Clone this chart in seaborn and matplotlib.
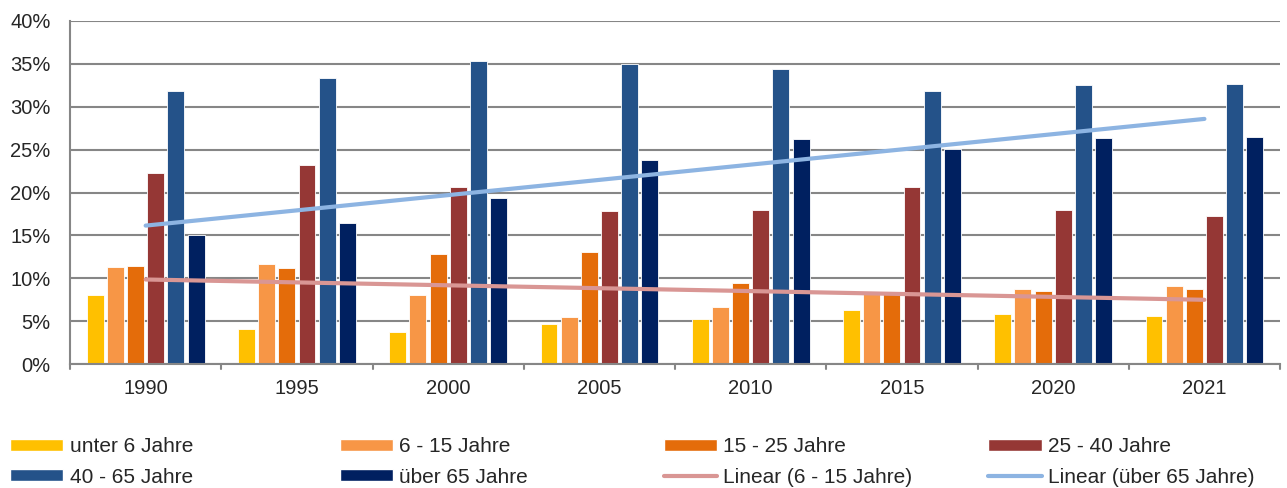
import numpy as np
import pandas as pd
import seaborn as sns
import matplotlib.pyplot as plt
from matplotlib.patches import Patch
from matplotlib.lines import Line2D

years = ["1990", "1995", "2000", "2005", "2010", "2015", "2020", "2021"]
groups = ["unter 6 Jahre", "6 - 15 Jahre", "15 - 25 Jahre", "25 - 40 Jahre",
          "40 - 65 Jahre", "über 65 Jahre"]
unter6 = [8.0, 4.1, 3.7, 4.7, 5.3, 6.3, 5.8, 5.6]
j6_15 = [11.3, 11.7, 8.1, 5.5, 6.7, 8.2, 8.8, 9.1]
j15_25 = [11.4, 11.2, 12.8, 13.1, 9.5, 8.2, 8.5, 8.8]
j25_40 = [22.3, 23.2, 20.6, 17.9, 18.0, 20.6, 18.0, 17.3]
j40_65 = [31.8, 33.3, 35.3, 35.0, 34.4, 31.8, 32.5, 32.7]
ueber65 = [15.1, 16.4, 19.4, 23.8, 26.2, 25.1, 26.4, 26.5]
colors = ["#FFC000", "#F79646", "#E46C0A", "#953735", "#245289", "#002060"]
trend_colors = ["#D99694", "#8DB4E2"]

series = [unter6, j6_15, j15_25, j25_40, j40_65, ueber65]
df = pd.DataFrame({
    "Jahr": years * len(groups),
    "Gruppe": np.repeat(groups, len(years)),
    "Anteil": np.concatenate(series) / 100,
})

sns.set_style("white")
plt.rcParams["font.family"] = ["Liberation Sans", "DejaVu Sans"]

fig = plt.figure(figsize=(12.87, 4.88), dpi=100)
ax = fig.add_axes([0.0544, 0.254, 0.9402, 0.703])

sns.barplot(data=df, x="Jahr", y="Anteil", hue="Gruppe", palette=colors,
            saturation=1, width=0.8, gap=0.16, edgecolor="white", linewidth=0.6,
            legend=False, ax=ax)

# linear trend lines (Excel style)
xs = np.arange(len(years))
for vals, c in zip([j6_15, ueber65], trend_colors):
    k, d = np.polyfit(xs, np.array(vals) / 100, 1)
    ax.plot(xs, k * xs + d, color=c, lw=3, solid_capstyle="round", zorder=5)

ax.set_ylim(0, 0.40)
ax.set_xlim(-0.5, len(years) - 0.5)
ax.set_yticks(np.arange(0, 0.41, 0.05))
ax.set_yticklabels([f"{int(round(v * 100))}%" for v in np.arange(0, 0.41, 0.05)])
ax.yaxis.grid(True, color="#868686", lw=1.5)
ax.set_axisbelow(True)
ax.set_xlabel("")
ax.set_ylabel("")
for s in ["top", "right"]:
    ax.spines[s].set_visible(False)
for s in ["left", "bottom"]:
    ax.spines[s].set_color("#868686")
    ax.spines[s].set_linewidth(1.5)
ax.tick_params(axis="y", length=0, pad=14, labelsize=14.5)
ax.tick_params(axis="x", length=0, pad=11, labelsize=14.5)
# tick marks between categories
for b in np.arange(-0.5, len(years), 1.0):
    ax.plot([b, b], [0, -0.006], color="#868686", lw=1.5, clip_on=False)

# legend: 4 columns, 2 rows
handles = [Patch(facecolor=c, label=g) for c, g in zip(colors, groups)]
handles += [Line2D([], [], color=trend_colors[0], lw=3, label="Linear (6 - 15 Jahre)"),
            Line2D([], [], color=trend_colors[1], lw=3, label="Linear (über 65 Jahre)")]
col_x = [0.008, 0.264, 0.516, 0.768]
for i, x in enumerate(col_x):
    hs = [handles[i], handles[i + 4]]
    fig.legend(hs, [h.get_label() for h in hs], loc="upper left",
               bbox_to_anchor=(x, 0.104), frameon=False, fontsize=15,
               handlelength=2.55, handleheight=0.5, handletextpad=0.3,
               labelspacing=0.55, borderpad=0, borderaxespad=0)

fig.savefig("out.png", dpi=100)
